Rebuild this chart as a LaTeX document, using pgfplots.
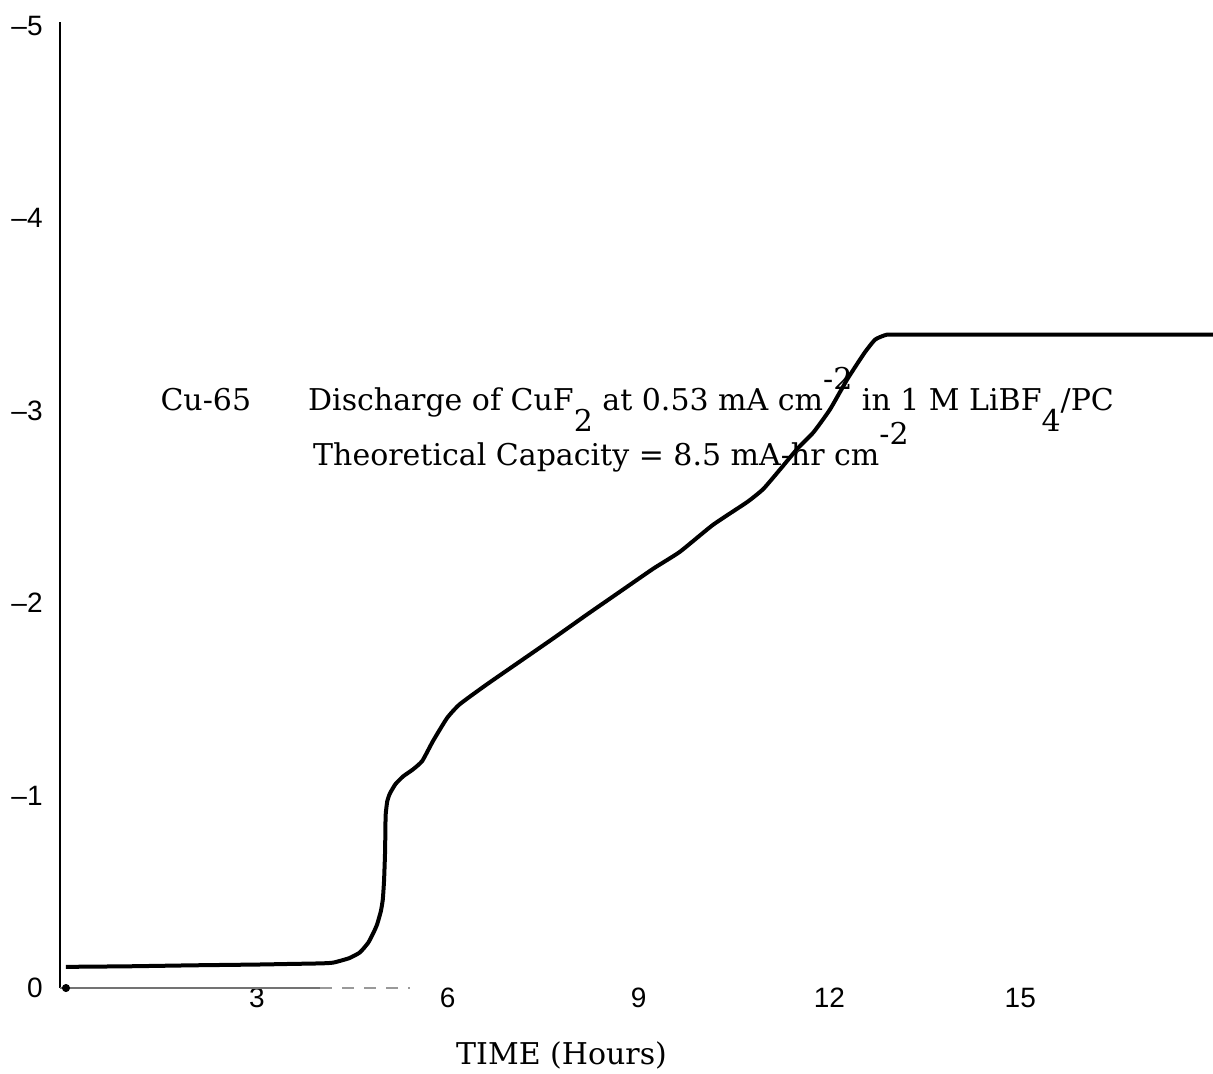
\documentclass[border=0pt]{standalone}
\usepackage{pgfplots}
\pgfplotsset{compat=1.18}
\usepackage{fontspec}
\setmainfont{DejaVu Serif}
\newfontfamily\tickfont{Liberation Sans}
\newcommand{\dn}[1]{\raisebox{-0.7em}{#1}}
\newcommand{\up}[1]{\raisebox{0.7em}{#1}}
\begin{document}
\begin{tikzpicture}
\useasboundingbox (-30pt,-42.5pt) rectangle (576.5pt,494pt);
\begin{axis}[
  at={(0pt,0pt)}, anchor=south west,
  scale only axis, width=576.5pt, height=483pt,
  xmin=-0.094, xmax=18.03, ymin=-5.02, ymax=0,
  y dir=reverse,
  axis line style={draw=none},
  clip=false,
  major tick length=0pt,
  xtick={3,6,9,12,15},
  xticklabels={3,6,9,12,15},
  ytick={-5,-4,-3,-2,-1,0},
  yticklabels={–5,–4,–3,–2,–1,0\hspace{6pt}},
  xticklabel style={font=\tickfont\fontsize{14}{16}\selectfont, inner sep=0pt, anchor=north},
  yticklabel style={font=\tickfont\fontsize{14}{16}\selectfont, inner sep=0pt, anchor=east, xshift=-8.5pt},
]
% y axis line
\draw[line width=1.4pt] (axis cs:-0.094,-5.02) -- (axis cs:-0.094,0);
% faint baseline
\addplot[black!55, line width=0.8pt] coordinates {(-0.094,0) (4.0,0)};
\addplot[black!40, line width=0.6pt, dash pattern=on 6pt off 5pt] coordinates {(4.0,0) (5.4,0)};
\addplot[only marks, mark=*, mark size=1.8pt, black] coordinates {(0,0)};
% discharge curve
\addplot[black, line width=2pt, smooth, tension=0.3] coordinates {
(0,-0.11) (1,-0.113) (2,-0.118) (3,-0.122) (3.5,-0.125) (4.0,-0.128) (4.2,-0.132)
(4.45,-0.155) (4.62,-0.185) (4.75,-0.235) (4.83,-0.285) (4.89,-0.33) (4.95,-0.40)
(4.98,-0.46) (5.00,-0.56) (5.015,-0.70) (5.02,-0.80) (5.025,-0.90) (5.05,-0.97)
(5.09,-1.01) (5.18,-1.06) (5.30,-1.10) (5.45,-1.135) (5.60,-1.18) (5.77,-1.284)
(5.99,-1.403) (6.19,-1.475) (6.62,-1.579) (7.14,-1.698) (7.66,-1.817) (8.19,-1.941)
(8.71,-2.060) (9.23,-2.179) (9.65,-2.267) (10.17,-2.407) (10.71,-2.526) (10.96,-2.593)
(11.23,-2.697) (11.49,-2.800) (11.75,-2.888) (12.01,-3.007) (12.28,-3.163) (12.55,-3.30)
(12.72,-3.37) (12.9,-3.395) (13.1,-3.395) (13.4,-3.395) (14,-3.395) (16,-3.395) (18.03,-3.395)
};
\node[anchor=base west, inner sep=0pt, font=\fontsize{15}{17}\selectfont] at (axis cs:1.48,-3.0) {Cu-65};
\node[anchor=base west, inner sep=0pt, font=\fontsize{15}{17}\selectfont] at (axis cs:3.80,-3.0)
  {Discharge of CuF\dn{2} at 0.53 mA cm\up{-2} in 1 M LiBF\dn{4}/PC};
\node[anchor=base west, inner sep=0pt, font=\fontsize{15}{17}\selectfont] at (axis cs:3.88,-2.717)
  {Theoretical Capacity = 8.5 mA-hr cm\up{-2}};
\node[anchor=center, inner sep=0pt, font=\fontsize{15}{17}\selectfont] at (axis cs:7.79,0.352) {TIME (Hours)};
\end{axis}
\end{tikzpicture}
\end{document}
